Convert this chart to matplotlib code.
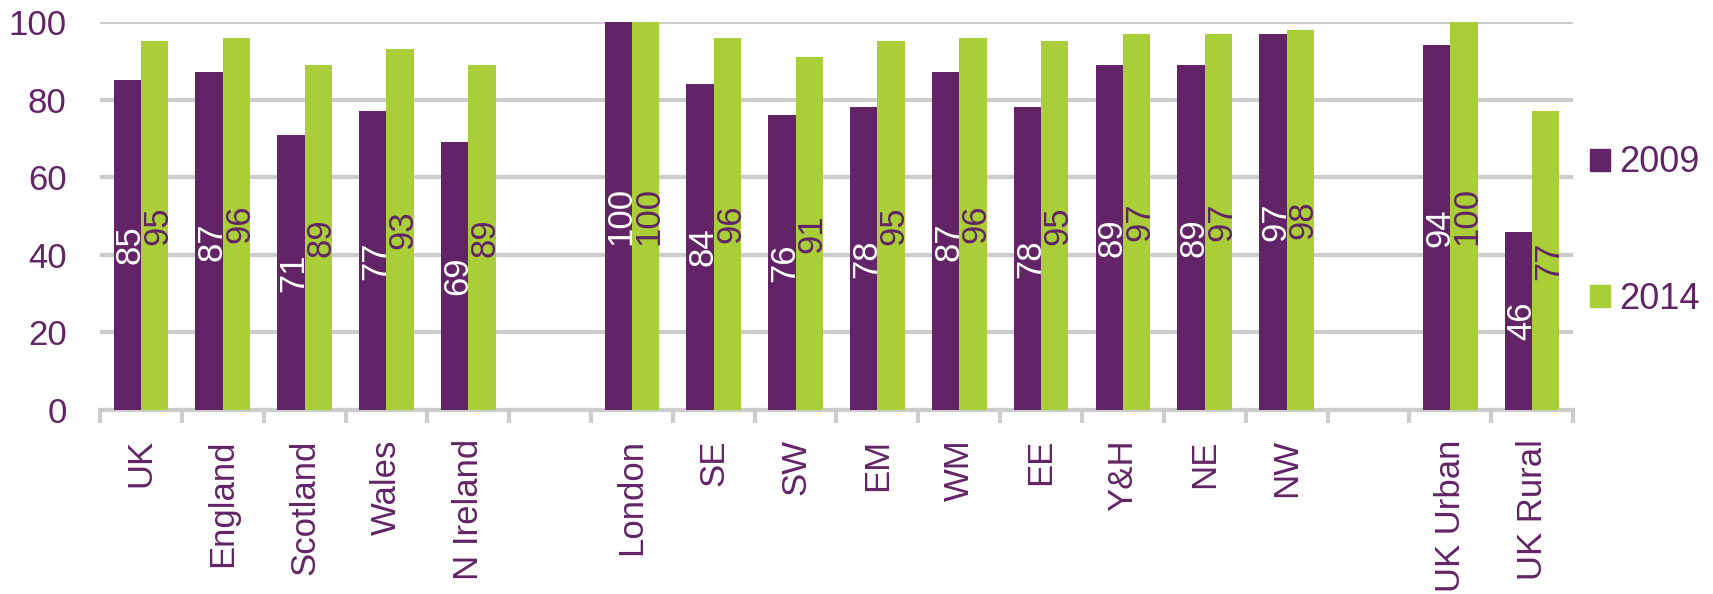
import numpy as np
import matplotlib
matplotlib.use('Agg')
import matplotlib.pyplot as plt
from matplotlib.patches import Patch
from matplotlib.transforms import offset_copy

plt.rcParams['font.family'] = ['Liberation Sans', 'DejaVu Sans']

# blank entries are the gaps between groups
categories = ['UK', 'England', 'Scotland', 'Wales', 'N Ireland', '',
              'London', 'SE', 'SW', 'EM', 'WM', 'EE', 'Y&H', 'NE', 'NW', '',
              'UK Urban', 'UK Rural']
v2009 = [85, 87, 71, 77, 69, None,
         100, 84, 76, 78, 87, 78, 89, 89, 97, None,
         94, 46]
v2014 = [95, 96, 89, 93, 89, None,
         100, 96, 91, 95, 96, 95, 97, 97, 98, None,
         100, 77]
series = ['2009', '2014']

purple = '#622466'
green = '#a9ce38'
grey = '#cccccc'
fs = 25

fig = plt.figure(figsize=(17.13, 5.94), dpi=100)
ax = fig.add_axes([100/1713, 1 - 410/594, (1573 - 100)/1713, (410 - 22)/594])

# baseline of the rotated labels sits right of the bar centre so digits look centred
lab_tr = offset_copy(ax.transData, fig=fig, x=12.5, y=0, units='dots')

x = np.arange(len(categories))
w = 1/3
for xi, a, b in zip(x, v2009, v2014):
    if a is None:
        continue
    ax.bar(xi - w/2, a, w, color=purple, zorder=3)
    ax.bar(xi + w/2, b, w, color=green, zorder=3)
    ax.text(xi - w/2, a/2, str(a), rotation=90, rotation_mode='anchor',
            ha='center', va='baseline', transform=lab_tr,
            color='white', fontsize=fs, zorder=4)
    ax.text(xi + w/2, b/2, str(b), rotation=90, rotation_mode='anchor',
            ha='center', va='baseline', transform=lab_tr,
            color=purple, fontsize=fs, zorder=4)

ax.set_xlim(-0.5, len(categories) - 0.5)
ax.set_ylim(0, 100)
ax.set_yticks([0, 20, 40, 60, 80, 100])
ax.yaxis.grid(True, color=grey, linewidth=3, zorder=0)
ax.tick_params(axis='y', length=0, pad=24, labelsize=fs, labelcolor=purple)

ax.set_xticks(x)
ax.set_xticklabels(categories, rotation=90, fontsize=fs, color=purple)
ax.set_xticks(np.arange(-0.5, len(categories)), minor=True)
ax.tick_params(axis='x', which='major', length=0, pad=21)
ax.tick_params(axis='x', which='minor', length=9, width=3, color=grey)

for s in ['top', 'right', 'left']:
    ax.spines[s].set_visible(False)
ax.spines['bottom'].set_color(grey)
ax.spines['bottom'].set_linewidth(3)

handles = [Patch(color=purple), Patch(color=green)]
fig.legend(handles, series, loc='center left', bbox_to_anchor=(1576/1713, 1 - 231/594),
           frameon=False, fontsize=26, labelcolor=purple, handlelength=0.55,
           handleheight=0.55, handletextpad=0.25, labelspacing=2.8, borderaxespad=0)

fig.savefig('out.png', dpi=100)
